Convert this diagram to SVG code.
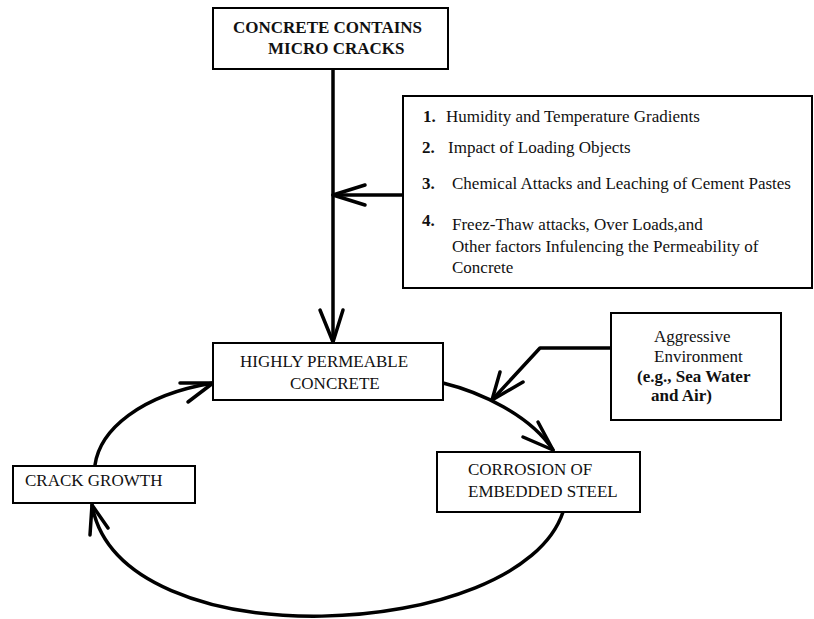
<svg xmlns="http://www.w3.org/2000/svg" width="814" height="619" viewBox="0 0 814 619">
<style>
.box{fill:#fff;stroke:#000;stroke-width:2}
.t{font-family:'Liberation Serif','Times New Roman','DejaVu Serif',serif;font-size:17px;fill:#111}
.b{font-weight:bold}
.c{fill:none;stroke:#000;stroke-width:3.5;stroke-linecap:round;stroke-linejoin:round}
</style>
<rect width="814" height="619" fill="#fff"/>
<g id="connectors">
  <path class="c" d="M333,70 L333,342"/>
  <path class="c" d="M320,310 L333,342 L343,310"/>
  <path class="c" d="M403,195 L333,195"/>
  <path class="c" d="M365,185 L333,195 L365,205"/>
  <path class="c" d="M611,348 L540,348 L492,400"/>
  <path class="c" d="M500,372 L492,400 L523,382"/>
  <path class="c" d="M443,383 C480,392 530,415 553,450"/>
  <path class="c" d="M538,422 L553,450 L523,437"/>
  <path class="c" d="M563,512 C520,642 120,662 92,505"/>
  <path class="c" d="M90,535 L92,505 L108,528"/>
  <path class="c" d="M95,465 C100,430 140,395 213,383"/>
  <path class="c" d="M180,383 L213,383 L188,402"/>
</g>
<g id="micro-cracks">
  <rect class="box" x="213" y="8" width="235" height="61"/>
  <text class="t b" x="233" y="33" font-size="17.5">CONCRETE CONTAINS</text>
  <text class="t b" x="268" y="54" font-size="17.5">MICRO CRACKS</text>
</g>
<g id="factors">
  <rect class="box" x="403" y="96" width="409" height="192"/>
  <text class="t b" x="423" y="122" font-size="15">1.</text>
  <text class="t" x="446" y="122">Humidity and Temperature Gradients</text>
  <text class="t b" x="422" y="153" font-size="15">2.</text>
  <text class="t" x="448" y="153">Impact of Loading Objects</text>
  <text class="t b" x="422" y="189" font-size="15">3.</text>
  <text class="t" x="452" y="189">Chemical Attacks and Leaching of Cement Pastes</text>
  <text class="t b" x="422" y="226" font-size="15">4.</text>
  <text class="t" x="452" y="230">Freez-Thaw attacks, Over Loads,and</text>
  <text class="t" x="452" y="252">Other factors Infulencing the Permeability of</text>
  <text class="t" x="452" y="273">Concrete</text>
</g>
<g id="permeable">
  <rect class="box" x="213" y="343" width="230" height="57"/>
  <text class="t" x="240" y="367">HIGHLY PERMEABLE</text>
  <text class="t" x="290" y="389">CONCRETE</text>
</g>
<g id="aggressive">
  <rect class="box" x="611" y="313" width="170" height="107"/>
  <text class="t" x="654" y="342" font-size="16">Aggressive</text>
  <text class="t" x="654" y="362" font-size="16">Environment</text>
  <text class="t b" x="637" y="382">(e.g., Sea Water</text>
  <text class="t b" x="651" y="401">and Air)</text>
</g>
<g id="corrosion">
  <rect class="box" x="437" y="452" width="203" height="60"/>
  <text class="t" x="468" y="475">CORROSION OF</text>
  <text class="t" x="468" y="497">EMBEDDED STEEL</text>
</g>
<g id="crack-growth">
  <rect class="box" x="13" y="466" width="182" height="37"/>
  <text class="t" x="25" y="486" font-size="17.5">CRACK GROWTH</text>
</g>
</svg>
